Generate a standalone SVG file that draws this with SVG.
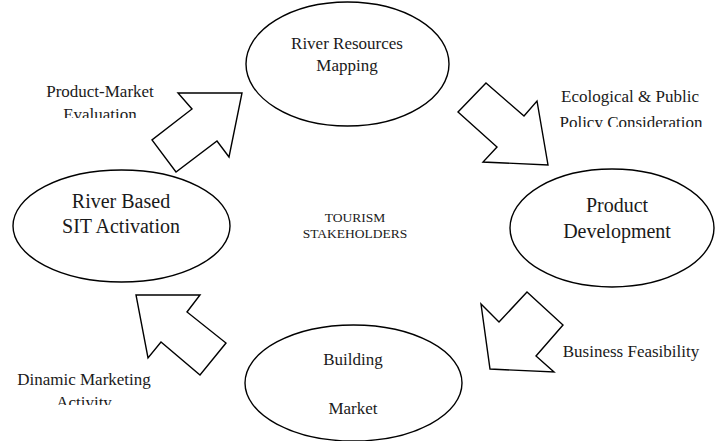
<svg xmlns="http://www.w3.org/2000/svg" width="717" height="441" viewBox="0 0 717 441" font-family="'Liberation Serif', 'DejaVu Serif', serif">
  <style>
    .node { fill: #ffffff; stroke: #000000; stroke-width: 1.4; }
    .flow { fill: #ffffff; stroke: #000000; stroke-width: 1.4; stroke-linejoin: miter; }
    text { font-family: 'Liberation Serif', 'DejaVu Serif', serif; fill: #1a1a1a; text-anchor: middle; }
    .lbl { font-size: 17px; }
    .big { font-size: 20px; }
    .hub { font-size: 13.5px; }
  </style>
  <defs>
    <clipPath id="clipEval"><rect x="0" y="70" width="240" height="48"/></clipPath>
    <clipPath id="clipPolicy"><rect x="540" y="80" width="177" height="47"/></clipPath>
    <clipPath id="clipActivity"><rect x="0" y="360" width="240" height="45"/></clipPath>
  </defs>

  <rect width="717" height="441" fill="#ffffff"/>

  <!-- block arrows between stages -->
  <g id="connectors">
    <polygon class="flow" points="178,93 242,93 229,157 217,141 176,172 152,140 192,109"/>
    <polygon class="flow" points="486,83 524,116 537,101 548,165 483,162 497,147 458,112"/>
    <polygon class="flow" points="527,292 563,325 536,356 554,372 490,369 481,304 499,322"/>
    <polygon class="flow" points="136,295 200,295 187,312 226,343 200,375 161,342 148,358"/>
  </g>

  <g id="mapping">
    <ellipse class="node" cx="347.5" cy="64" rx="101.5" ry="62"/>
    <text class="lbl" x="347" y="49">River Resources</text>
    <text class="lbl" x="347" y="71">Mapping</text>
  </g>

  <g id="development">
    <ellipse class="node" cx="612" cy="228" rx="102" ry="59"/>
    <text class="big" x="617" y="212">Product</text>
    <text class="big" x="617" y="238">Development</text>
  </g>

  <g id="market">
    <ellipse class="node" cx="353.5" cy="383" rx="108.5" ry="58"/>
    <text class="lbl" x="353" y="365">Building</text>
    <text class="lbl" x="353" y="414">Market</text>
  </g>

  <g id="activation">
    <ellipse class="node" cx="121.5" cy="226" rx="108.5" ry="56"/>
    <text class="big" x="121" y="208">River Based</text>
    <text class="big" x="121" y="233">SIT Activation</text>
  </g>

  <g id="stakeholders">
    <text class="hub" x="355" y="222">TOURISM</text>
    <text class="hub" x="355" y="238">STAKEHOLDERS</text>
  </g>

  <!-- stage transition labels -->
  <g id="label-evaluation" clip-path="url(#clipEval)">
    <text class="lbl" x="100" y="97">Product-Market</text>
    <text class="lbl" x="100" y="120">Evaluation</text>
  </g>
  <g id="label-policy" clip-path="url(#clipPolicy)">
    <text class="lbl" x="630" y="102">Ecological &amp; Public</text>
    <text class="lbl" x="631" y="128">Policy Consideration</text>
  </g>
  <g id="label-feasibility">
    <text class="lbl" x="631" y="357">Business Feasibility</text>
  </g>
  <g id="label-marketing" clip-path="url(#clipActivity)">
    <text class="lbl" x="84" y="385">Dinamic Marketing</text>
    <text class="lbl" x="84" y="408">Activity</text>
  </g>
</svg>
